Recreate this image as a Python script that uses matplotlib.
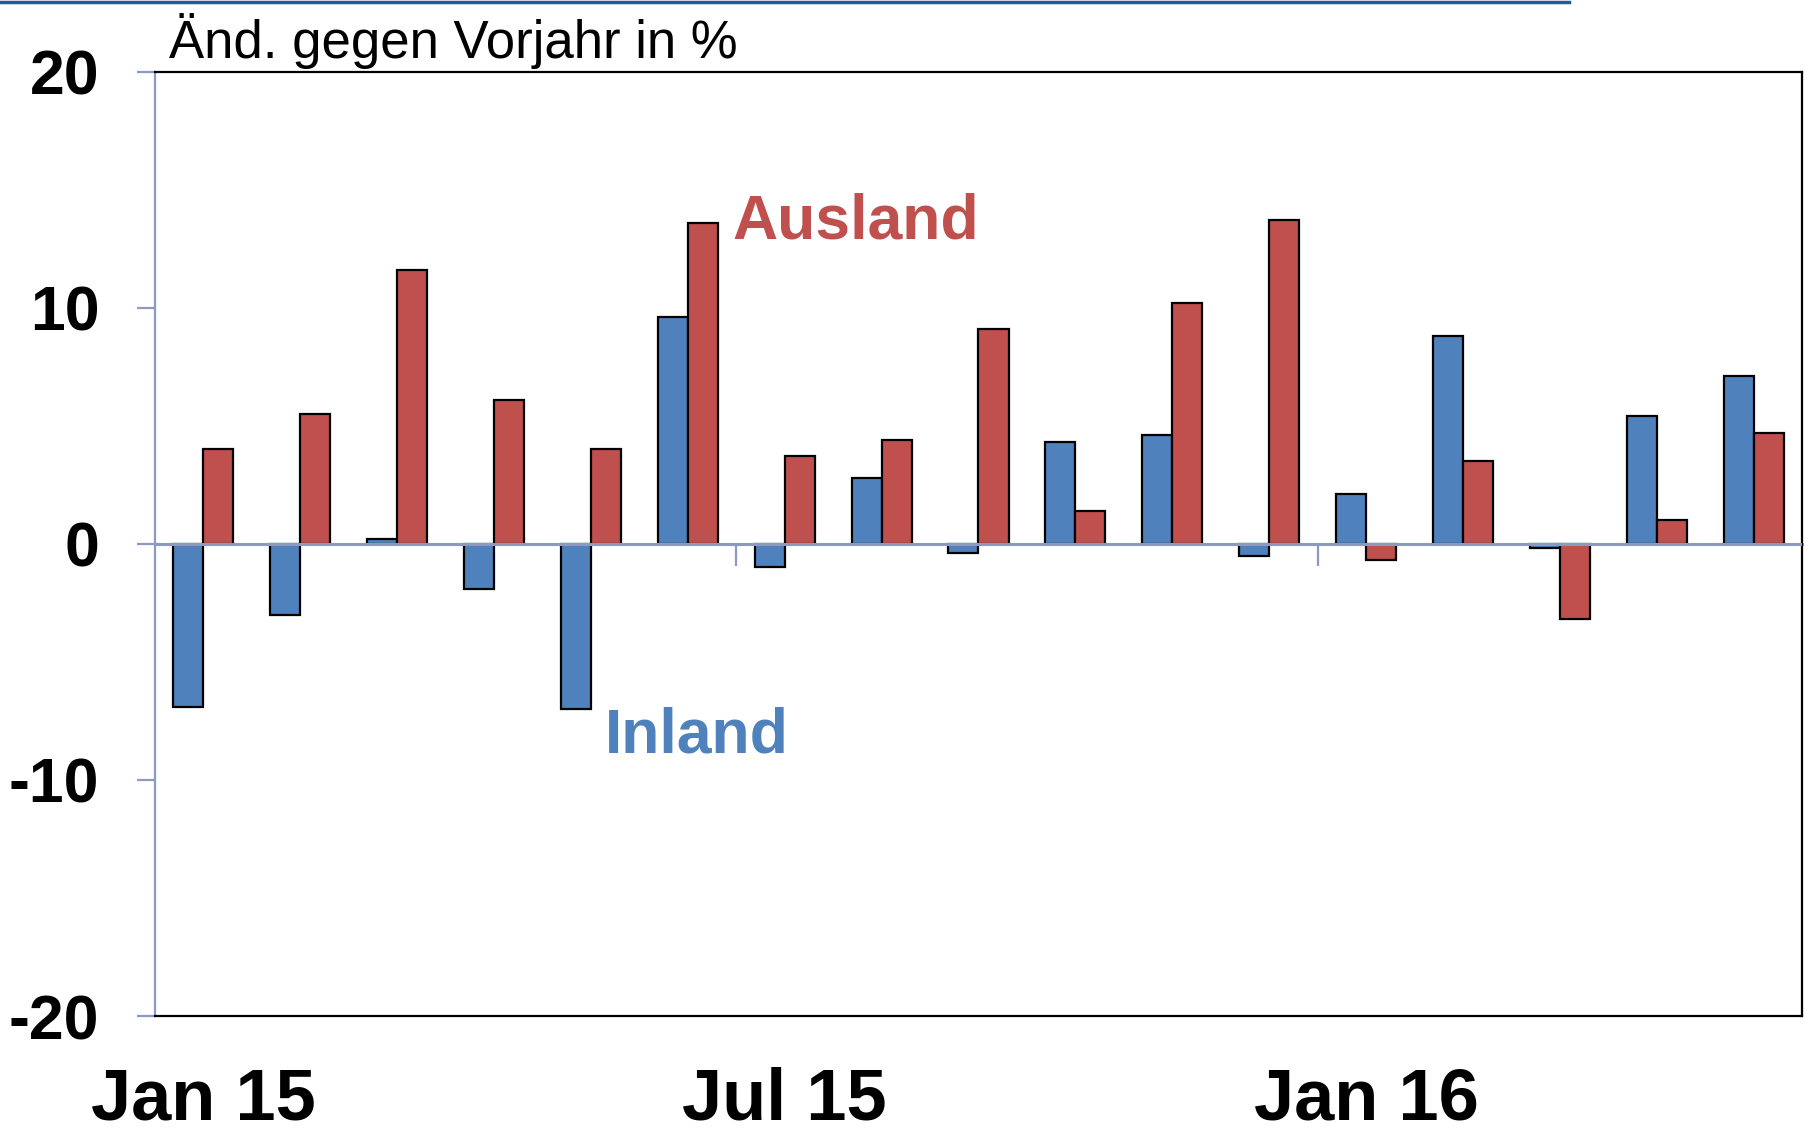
import numpy as np
import matplotlib
matplotlib.use("Agg")
import matplotlib.pyplot as plt
from matplotlib.lines import Line2D

plt.rcParams['font.family'] = ['Liberation Sans', 'DejaVu Sans']

# monthly data, Jan 15 .. May 16
months = ["Jan 15", "Feb 15", "Mar 15", "Apr 15", "May 15", "Jun 15",
          "Jul 15", "Aug 15", "Sep 15", "Oct 15", "Nov 15", "Dec 15",
          "Jan 16", "Feb 16", "Mar 16", "Apr 16", "May 16"]
inland = [-6.9, -3.0, 0.2, -1.9, -7.0, 9.6, -1.0, 2.8, -0.4, 4.3, 4.6, -0.5,
          2.1, 8.8, -0.2, 5.4, 7.1]
ausland = [4.0, 5.5, 11.6, 6.1, 4.0, 13.6, 3.7, 4.4, 9.1, 1.4, 10.2, 13.7,
           -0.7, 3.5, -3.2, 1.0, 4.7]
xtick_labels = {0: "Jan 15", 6: "Jul 15", 12: "Jan 16"}
yticks = [-20, -10, 0, 10, 20]
ytick_labels = ["-20", "-10", "0", "10", "20"]

blue = "#4F81BD"
red = "#C0504D"
axis_grey = "#8D9AC0"

fig = plt.figure(figsize=(18.06, 11.36), dpi=100)
ax = fig.add_axes([155 / 1806, 1 - 1016 / 1136, (1802 - 155) / 1806, (1016 - 71.5) / 1136])

x = np.arange(len(months))
w = 0.31
ax.bar(x - w / 2, inland, w, color=blue, edgecolor="black", linewidth=1.6, zorder=2)
ax.bar(x + w / 2, ausland, w, color=red, edgecolor="black", linewidth=1.6, zorder=2)

ax.set_xlim(-0.5, len(months) - 0.5)
ax.set_ylim(-20, 20)

# frame
for s in ["top", "right", "bottom"]:
    ax.spines[s].set_color("black")
    ax.spines[s].set_linewidth(1.6)
ax.spines["left"].set_color(axis_grey)
ax.spines["left"].set_linewidth(1.6)

ax.set_yticks(yticks)
ax.set_yticklabels(ytick_labels, fontsize=45, fontweight="bold")
ax.tick_params(axis="y", direction="out", length=13, width=1.6, color=axis_grey, pad=27)

ax.set_xticks(list(xtick_labels.keys()))
ax.set_xticklabels(list(xtick_labels.values()), fontsize=52, fontweight="bold")
ax.tick_params(axis="x", length=0, pad=36)

# zero line with half-year separators
ax.axhline(0, color=axis_grey, linewidth=2.2, zorder=3)
sec = ax.secondary_xaxis(0, transform=ax.transData)
sec.spines["bottom"].set_color(axis_grey)
sec.spines["bottom"].set_linewidth(2.2)
sec.set_xticks([5.5, 11.5])
sec.set_xticklabels([])
sec.tick_params(direction="out", length=16, width=1.6, color=axis_grey)

ax.text(5.46, 12.93, "Ausland", color=red, fontsize=45, fontweight="bold",
        ha="left", va="baseline")
ax.text(4.14, -8.83, "Inland", color=blue, fontsize=45, fontweight="bold",
        ha="left", va="baseline")

fig.text(169 / 1806, 1 - 57.6 / 1136, "Änd. gegen Vorjahr in %", fontsize=38,
         ha="left", va="baseline")

# thin rule at the top of the slide
fig.add_artist(Line2D([0, 1569 / 1806], [1 - 1.5 / 1136] * 2, color="#1F5C9E",
                      linewidth=2.5, transform=fig.transFigure))

fig.savefig("out.png", dpi=100)
